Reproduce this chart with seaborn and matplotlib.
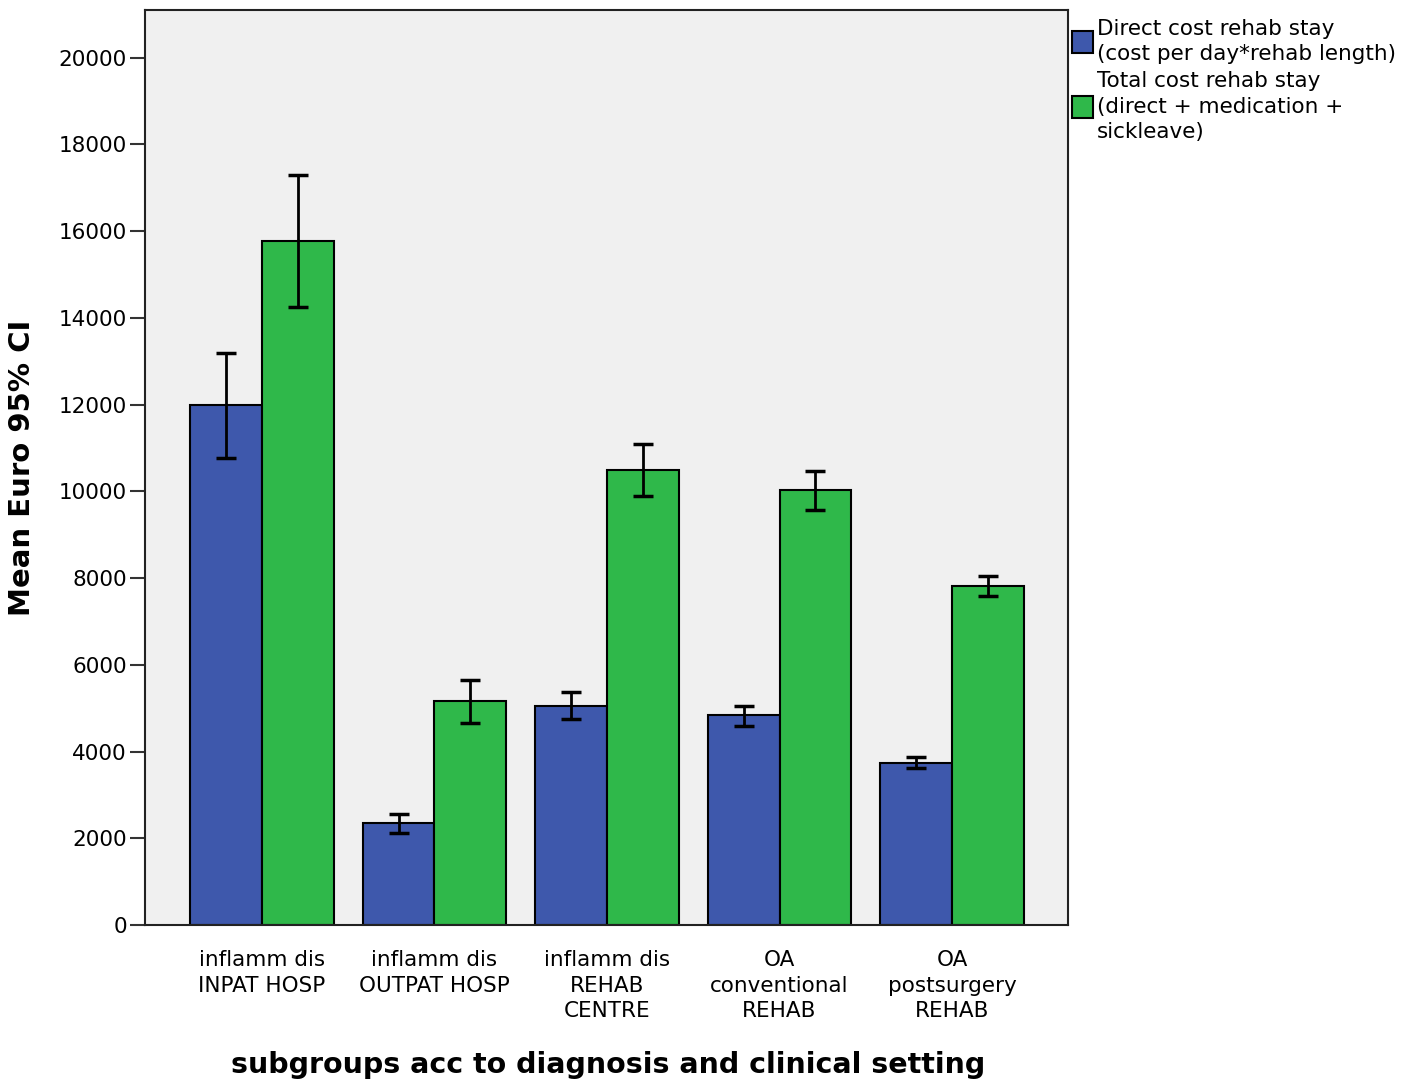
import numpy as np
import pandas as pd
import matplotlib
matplotlib.use("Agg")
import matplotlib.pyplot as plt
import seaborn as sns

# --- data ---
groups = ["inflamm dis\nINPAT HOSP", "inflamm dis\nOUTPAT HOSP", "inflamm dis\nREHAB\nCENTRE",
          "OA\nconventional\nREHAB", "OA\npostsurgery\nREHAB"]
series = ["Direct cost rehab stay\n(cost per day*rehab length)",
          "Total cost rehab stay\n(direct + medication +\nsickleave)"]

direct_mean = [12000, 2350, 5050, 4840, 3730]
direct_lo = [10780, 2120, 4750, 4590, 3620]
direct_hi = [13200, 2560, 5370, 5050, 3870]

total_mean = [15780, 5160, 10500, 10020, 7810]
total_lo = [14260, 4650, 9900, 9560, 7580]
total_hi = [17300, 5650, 11100, 10480, 8040]

y_ticks = list(range(0, 20001, 2000))

means = [direct_mean, total_mean]
lows = [direct_lo, total_lo]
highs = [direct_hi, total_hi]

df = pd.DataFrame({
    "group": groups * 2,
    "series": [series[0]] * len(groups) + [series[1]] * len(groups),
    "mean": direct_mean + total_mean,
})

sns.set_style("ticks")
plt.rcParams["font.family"] = ["DejaVu Sans"]
plt.rcParams["text.color"] = "black"
plt.rcParams["axes.labelcolor"] = "black"
plt.rcParams["xtick.color"] = "black"
plt.rcParams["ytick.color"] = "black"

fig = plt.figure(figsize=(14.17, 10.83), dpi=100)
ax = fig.add_axes([145 / 1417, 1 - 925 / 1083, 923 / 1417, 915 / 1083])
ax.set_facecolor("#f0f0f0")

sns.barplot(data=df, x="group", y="mean", hue="series", order=groups, hue_order=series,
            palette=["#3e58ac", "#2fb84a"], edgecolor="black", linewidth=1.5,
            width=0.83, errorbar=None, saturation=1, ax=ax)

# 95% CI whiskers on top of the bars
for cont, m, lo, hi in zip(ax.containers, means, lows, highs):
    xs = [b.get_x() + b.get_width() / 2 for b in cont]
    m = np.array(m)
    err = [m - np.array(lo), np.array(hi) - m]
    ax.errorbar(xs, m, yerr=err, fmt="none", ecolor="black", elinewidth=2,
                capsize=7, capthick=2.5, zorder=5)

ax.set_xlim(-0.678, 4.672)
ax.set_ylim(0, 21100)
ax.set_yticks(y_ticks)
ax.set_yticklabels([str(v) for v in y_ticks], fontsize=15.5)
ax.tick_params(axis="y", length=11, width=1.5, color="#333333", pad=2)
ax.tick_params(axis="x", length=0, pad=18, labelsize=15.5)
for lab in ax.get_xticklabels():
    lab.set_linespacing(1.35)

for sp in ax.spines.values():
    sp.set_visible(True)
    sp.set_color("#222222")
    sp.set_linewidth(1.5)

ax.set_ylabel("Mean Euro 95% CI", fontsize=21, fontweight="bold")
ax.yaxis.set_label_coords(-0.118, 0.5)
ax.set_xlabel("subgroups acc to diagnosis and clinical setting", fontsize=20.5, fontweight="bold")
ax.xaxis.set_label_coords(0.5016, -0.138)

handles, labels = ax.get_legend_handles_labels()
leg = ax.legend(handles, labels, loc="upper left", bbox_to_anchor=(1.0, 0.995), frameon=False,
                fontsize=15.5, handlelength=0.95, handleheight=1.2, handletextpad=0.2,
                borderaxespad=0.1, labelspacing=0.3, borderpad=0.1)
for t in leg.get_texts():
    t.set_linespacing(1.35)

fig.savefig("out.png", dpi=100)
